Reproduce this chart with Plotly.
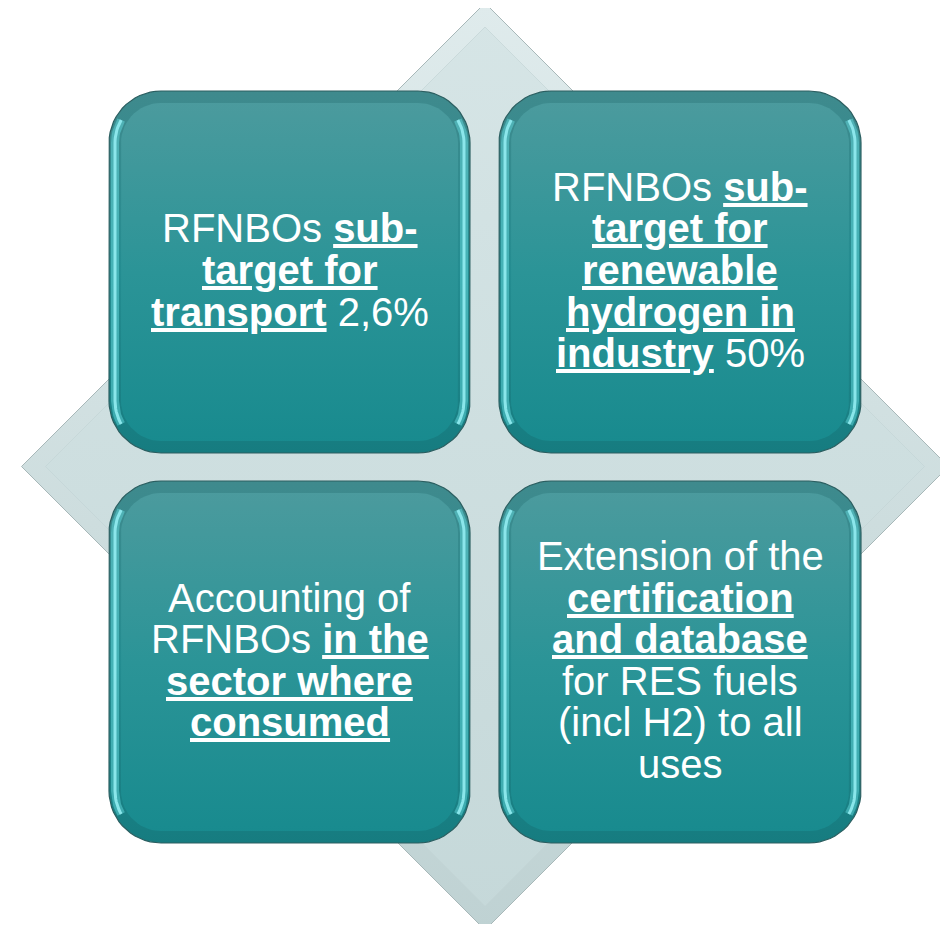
import numpy as np
import plotly.graph_objects as go

W, H = 948, 932
OFF = 8  # default page margin of the html body

# ---- content (text of the four cells) ----
cell_lines = [
    ["RFNBOs <b><u>sub-</u></b>", "<b><u>target for</u></b>", "<b><u>transport</u></b> 2,6%"],
    ["RFNBOs <b><u>sub-</u></b>", "<b><u>target for</u></b>", "<b><u>renewable</u></b>",
     "<b><u>hydrogen in</u></b>", "<b><u>industry</u></b> 50%"],
    ["Accounting of", "RFNBOs <b><u>in the</u></b>", "<b><u>sector where</u></b>", "<b><u>consumed</u></b>"],
    ["Extension of the", "<b><u>certification</u></b>", "<b><u>and database</u></b>",
     "for RES fuels", "(incl H2) to all", "uses"],
]

# ---- geometry / style ----
cells = [(109, 91, 470, 453), (499, 91, 861, 453), (109, 481, 470, 843), (499, 481, 861, 843)]
radius = 52
dcx, dcy, dhalf = 485, 466.5, 463.5
font_size = 40
line_gap = 41.6
FONT = "'Liberation Sans', Arial, Helvetica, sans-serif"

fig = go.Figure()


def diamond(cx, cy, h):
    return [cx, cx + h, cx, cx - h, cx], [cy - h, cy, cy + h, cy, cy - h]


def rrect(x0, y0, x1, y1, r, n=16):
    xs, ys = [], []
    corners = [(x1 - r, y0 + r, -90, 0), (x1 - r, y1 - r, 0, 90),
               (x0 + r, y1 - r, 90, 180), (x0 + r, y0 + r, 180, 270)]
    for cx, cy, a0, a1 in corners:
        t = np.radians(np.linspace(a0, a1, n))
        xs += list(cx + r * np.cos(t))
        ys += list(cy + r * np.sin(t))
    xs.append(xs[0]); ys.append(ys[0])
    return xs, ys


def side_arc(x0, y0, x1, y1, r, side, span=30, n=10):
    # open path along left or right side incl. part of the corner arcs
    if side == "left":
        t1 = np.radians(np.linspace(180 + span, 180, n))
        t2 = np.radians(np.linspace(180, 180 - span, n))
        xs = list(x0 + r + r * np.cos(t1)) + list(x0 + r + r * np.cos(t2))
        ys = list(y0 + r + r * np.sin(t1)) + list(y1 - r + r * np.sin(t2))
    else:
        t1 = np.radians(np.linspace(-span, 0, n))
        t2 = np.radians(np.linspace(0, span, n))
        xs = list(x1 - r + r * np.cos(t1)) + list(x1 - r + r * np.cos(t2))
        ys = list(y0 + r + r * np.sin(t1)) + list(y1 - r + r * np.sin(t2))
    return xs, ys


def add_poly(xs, ys, top, bottom, c_top, c_bot, line=None, mid=None):
    cs = [[0, c_top], [1, c_bot]] if mid is None else [[0, c_top], [0.5, mid], [1, c_bot]]
    fig.add_trace(go.Scatter(
        x=xs, y=ys, mode="lines", fill="toself",
        fillgradient=dict(type="vertical", colorscale=cs, start=top, stop=bottom),
        line=line if line else dict(width=0, color="rgba(0,0,0,0)"),
        hoverinfo="skip", showlegend=False))


# background diamond with bevel
xs, ys = diamond(dcx, dcy, dhalf)
add_poly(xs, ys, dcy - dhalf, dcy + dhalf, "#DFEBEC", "#BFD2D3",
         line=dict(width=1, color="#A8B8B9"))
xs, ys = diamond(dcx, dcy, dhalf - 24)
add_poly(xs, ys, dcy - dhalf, dcy + dhalf, "#D6E5E6", "#C5D8D9",
         line=dict(width=1, color="rgba(195,212,213,0.7)"))

# the four cells
for (x0, y0, x1, y1) in cells:
    xs, ys = rrect(x0, y0, x1, y1, radius)
    add_poly(xs, ys, y0, y1, "#3F8A8D", "#167C80", mid="#248D91",
             line=dict(width=1.2, color="#2C5F61"))
    for side in ("left", "right"):
        sx, sy = side_arc(x0 + 6, y0 + 6, x1 - 6, y1 - 6, radius - 6, side)
        fig.add_trace(go.Scatter(x=sx, y=sy, mode="lines",
                                 line=dict(width=8, color="rgba(100,215,220,0.5)"),
                                 hoverinfo="skip", showlegend=False))
        fig.add_trace(go.Scatter(x=sx, y=sy, mode="lines",
                                 line=dict(width=3, color="rgba(150,240,244,0.85)"),
                                 hoverinfo="skip", showlegend=False))
    xs, ys = rrect(x0 + 12, y0 + 12, x1 - 12, y1 - 12, radius - 12)
    add_poly(xs, ys, y0, y1, "#4D9B9E", "#178A8E", mid="#2B9497")

# text
for (x0, y0, x1, y1), lines in zip(cells, cell_lines):
    cx = (x0 + x1) / 2
    cy = (y0 + y1) / 2
    n = len(lines)
    for i, t in enumerate(lines):
        fig.add_annotation(x=cx, y=cy - 2 + (i - (n - 1) / 2) * line_gap, text=t,
                           showarrow=False, xanchor="center", yanchor="middle",
                           font=dict(family=FONT, size=font_size, color="white"))

fig.update_layout(
    width=W - 2 * OFF, height=H - 2 * OFF, margin=dict(l=0, r=0, t=0, b=0),
    paper_bgcolor="white", plot_bgcolor="white",
    xaxis=dict(range=[OFF, W - OFF], visible=False, fixedrange=True),
    yaxis=dict(range=[H - OFF, OFF], visible=False, fixedrange=True),
    showlegend=False,
)
fig.write_html("out.html")
